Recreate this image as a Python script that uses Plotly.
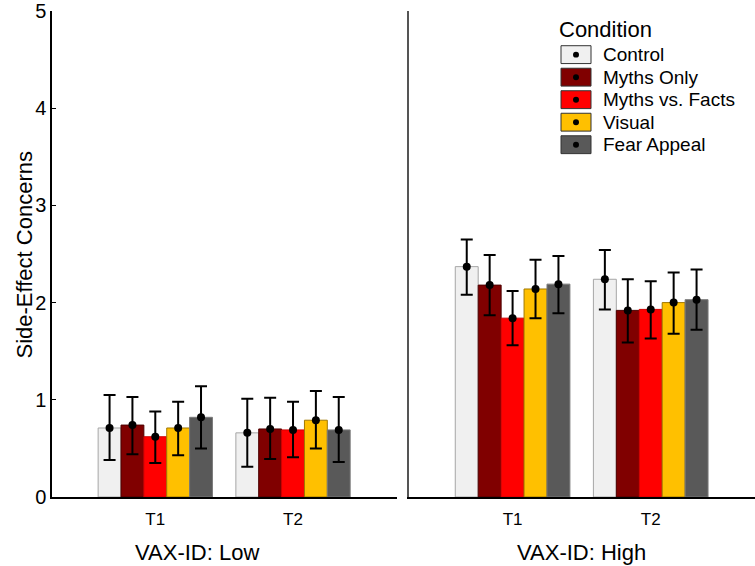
import plotly.graph_objects as go

# ---------------- data ----------------
times = ["T1", "T2"]
conditions = ["Control", "Myths Only", "Myths vs. Facts", "Visual", "Fear Appeal"]
panels = ["VAX-ID: Low", "VAX-ID: High"]

# values per condition -> [T1, T2]
low_mean = {
    "Control":         [0.71, 0.66],
    "Myths Only":      [0.74, 0.70],
    "Myths vs. Facts": [0.62, 0.69],
    "Visual":          [0.71, 0.79],
    "Fear Appeal":     [0.82, 0.69],
}
low_upper = {
    "Control":         [1.05, 1.01],
    "Myths Only":      [1.03, 1.02],
    "Myths vs. Facts": [0.88, 0.98],
    "Visual":          [0.98, 1.09],
    "Fear Appeal":     [1.14, 1.03],
}
low_lower = {
    "Control":         [0.38, 0.31],
    "Myths Only":      [0.44, 0.39],
    "Myths vs. Facts": [0.35, 0.41],
    "Visual":          [0.43, 0.50],
    "Fear Appeal":     [0.50, 0.36],
}
high_mean = {
    "Control":         [2.37, 2.24],
    "Myths Only":      [2.18, 1.92],
    "Myths vs. Facts": [1.84, 1.93],
    "Visual":          [2.14, 2.00],
    "Fear Appeal":     [2.19, 2.03],
}
high_upper = {
    "Control":         [2.65, 2.54],
    "Myths Only":      [2.49, 2.24],
    "Myths vs. Facts": [2.12, 2.22],
    "Visual":          [2.44, 2.31],
    "Fear Appeal":     [2.48, 2.34],
}
high_lower = {
    "Control":         [2.08, 1.93],
    "Myths Only":      [1.87, 1.59],
    "Myths vs. Facts": [1.56, 1.63],
    "Visual":          [1.84, 1.68],
    "Fear Appeal":     [1.89, 1.72],
}
y_ticks = [0, 1, 2, 3, 4, 5]

# ---------------- styles ----------------
fill_colors = {
    "Control": "#f0f0f0",
    "Myths Only": "#800000",
    "Myths vs. Facts": "#ff0000",
    "Visual": "#ffc000",
    "Fear Appeal": "#595959",
}
edge_colors = {
    "Control": "#a6a6a6",
    "Myths Only": "#4d0000",
    "Myths vs. Facts": "#d00000",
    "Visual": "#a07800",
    "Fear Appeal": "#7a7a7a",
}
FONT = "Liberation Sans, Arial, sans-serif"

W, H = 755, 566
L, R, T, B = 52, 0, 7, 69
PW, PH = W - L - R, H - T - B

def px(xp):
    return (xp - L) / PW

def py(yp):
    return (H - B - yp) / PH

group_w = 0.83
n = len(conditions)
bw = group_w / n

fig = go.Figure()
panel_data = [
    (low_mean, low_upper, low_lower, "x", "y"),
    (high_mean, high_upper, high_lower, "x2", "y2"),
]
for mean, upper, lower, xa, ya in panel_data:
    for k, c in enumerate(conditions):
        xs = [i + (k - (n - 1) / 2) * bw for i in range(len(times))]
        fig.add_trace(go.Bar(
            x=xs, y=mean[c], width=bw, xaxis=xa, yaxis=ya,
            marker=dict(color=fill_colors[c], line=dict(color=edge_colors[c], width=1)),
            showlegend=False, name=c,
        ))
        fig.add_trace(go.Scatter(
            x=xs, y=mean[c], mode="markers", xaxis=xa, yaxis=ya,
            marker=dict(color="black", size=8),
            error_y=dict(type="data", symmetric=False,
                         array=[u - m for u, m in zip(upper[c], mean[c])],
                         arrayminus=[m - l for m, l in zip(mean[c], lower[c])],
                         color="black", thickness=2, width=6),
            showlegend=False, name=c,
        ))

xcommon = dict(range=[-0.75, 1.755], tickvals=list(range(len(times))), ticktext=times,
               showline=True, linecolor="black", linewidth=2, ticks="outside",
               ticklen=6, tickcolor="rgba(0,0,0,0)", showgrid=False, zeroline=False,
               tickfont=dict(family=FONT, size=17, color="black"), fixedrange=True)
fig.update_layout(
    width=W, height=H,
    margin=dict(l=L, r=R, t=T, b=B),
    paper_bgcolor="white", plot_bgcolor="white",
    barmode="overlay",
    xaxis=dict(domain=[0, px(397)], anchor="y", **xcommon),
    xaxis2=dict(domain=[px(409), 1], anchor="y2", **xcommon),
    yaxis=dict(range=[0, 5], tickvals=y_ticks, ticktext=[str(v) for v in y_ticks],
               showline=True, linecolor="black", linewidth=1.5, ticks="inside",
               ticklen=4, tickcolor="black", showgrid=False, zeroline=False,
               ticklabeloverflow="allow",
               tickfont=dict(family=FONT, size=20, color="black"), anchor="x"),
    yaxis2=dict(range=[0, 5], showticklabels=False, showline=True, linecolor="#555555",
                linewidth=2, ticks="", showgrid=False, zeroline=False, anchor="x2"),
    showlegend=False,
)

# axis title
fig.add_annotation(text="Side-Effect Concerns", xref="paper", yref="paper",
                   x=px(10), y=py(253), textangle=-90, showarrow=False,
                   font=dict(family=FONT, size=22, color="black"))
# panel labels
for label, cx in zip(panels, [197, 581]):
    fig.add_annotation(text=label, xref="paper", yref="paper", x=px(cx), y=py(553),
                       xanchor="center", yanchor="middle", showarrow=False,
                       font=dict(family=FONT, size=22, color="black"))

# manual legend
fig.add_annotation(text="Condition", xref="paper", yref="paper", x=px(557), y=py(26),
                   xanchor="left", yanchor="middle", showarrow=False,
                   font=dict(family=FONT, size=22, color="black"))
row0, pitch = 51, 22.7
for k, c in enumerate(conditions):
    cy = row0 + k * pitch
    fig.add_shape(type="rect", xref="paper", yref="paper",
                  x0=px(561), x1=px(591), y0=py(cy - 9), y1=py(cy + 9),
                  fillcolor=fill_colors[c], line=dict(color="#333333", width=1))
    fig.add_shape(type="circle", xref="paper", yref="paper",
                  x0=px(576 - 3), x1=px(576 + 3), y0=py(cy - 3), y1=py(cy + 3),
                  fillcolor="black", line=dict(color="black", width=0))
    fig.add_annotation(text=c, xref="paper", yref="paper", x=px(601), y=py(cy),
                       xanchor="left", yanchor="middle", showarrow=False,
                       font=dict(family=FONT, size=19, color="black"))

fig.write_html("out.html", config={"displayModeBar": False},
               post_script="document.body.style.margin='0px';")
